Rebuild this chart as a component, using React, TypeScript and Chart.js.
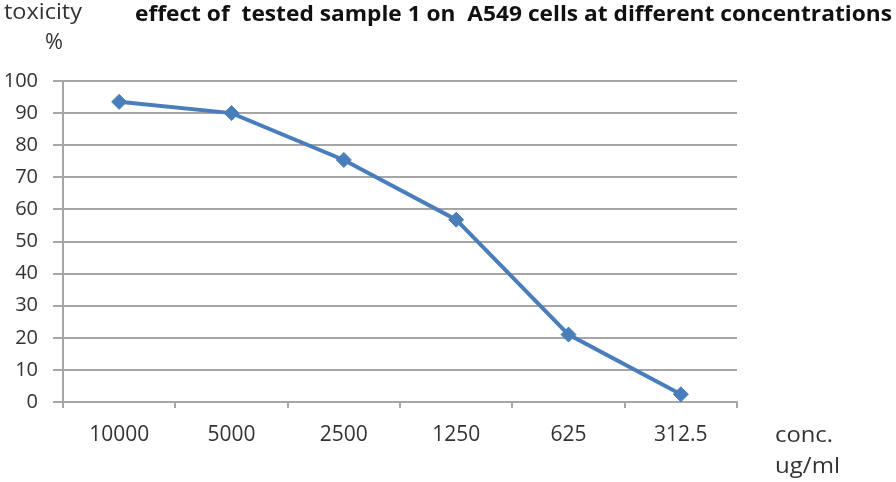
import React, { useEffect, useRef } from "react";
import { Chart, registerables } from "chart.js";

Chart.register(...registerables);

const categories = ["10000", "5000", "2500", "1250", "625", "312.5"];
const toxicity = [93.5, 90, 75.4, 56.8, 21, 2.4];
const yTicks = [0, 10, 20, 30, 40, 50, 60, 70, 80, 90, 100];

const titleText = "effect of  tested sample 1 on  A549 cells at different concentrations";
const yTitle1 = "toxicity";
const yTitle2 = "%";
const xTitle1 = "conc.";
const xTitle2 = "ug/ml";

function drawFit(ctx: CanvasRenderingContext2D, text: string, x: number, baseline: number, width: number, font: string, color: string) {
  ctx.save();
  ctx.font = font;
  ctx.fillStyle = color;
  ctx.textBaseline = "alphabetic";
  ctx.textAlign = "left";
  const w = ctx.measureText(text).width;
  ctx.translate(x, baseline);
  ctx.scale(width / w, 1);
  ctx.fillText(text, 0, 0);
  ctx.restore();
}

const textPlugin = {
  id: "textPlugin",
  afterDraw(chart: any) {
    const ctx = chart.ctx as CanvasRenderingContext2D;
    drawFit(ctx, titleText, 135, 21, 757, "bold 22px 'Open Sans'", "#111111");
    drawFit(ctx, yTitle1, 4, 19, 78, "22px 'Open Sans'", "#333333");
    drawFit(ctx, yTitle2, 45, 49, 18, "21px 'Open Sans'", "#333333");
    drawFit(ctx, xTitle1, 775, 442, 58, "22px 'Open Sans'", "#333333");
    drawFit(ctx, xTitle2, 775, 473, 65, "22px 'Open Sans'", "#333333");
  },
};

export default function App() {
  const ref = useRef<HTMLCanvasElement | null>(null);
  useEffect(() => {
    if (!ref.current) return;
    const chart = new Chart(ref.current, {
      type: "line",
      data: {
        labels: categories,
        datasets: [
          {
            data: toxicity,
            borderColor: "#4a7ebb",
            backgroundColor: "#4a7ebb",
            borderWidth: 4,
            pointStyle: "rectRot",
            pointRadius: 7.5,
            pointHoverRadius: 7.5,
            pointBorderWidth: 1,
            tension: 0,
          },
        ],
      },
      options: {
        responsive: false,
        animation: false,
        maintainAspectRatio: false,
        layout: { padding: { left: 0, top: 81, right: 159, bottom: 0 } },
        plugins: {
          legend: { display: false },
          title: { display: false },
          tooltip: { enabled: false },
        },
        scales: {
          x: {
            type: "category",
            offset: true,
            grid: {
              drawOnChartArea: false,
              drawTicks: true,
              tickLength: 6,
              offset: true,
              color: "#a6a6a6",
              lineWidth: 2,
            },
            border: { display: true, color: "#a6a6a6", width: 2 },
            ticks: {
              color: "#333333",
              font: { family: "'Open Sans'", size: 21 },
              padding: 14,
              maxRotation: 0,
              autoSkip: false,
            },
            afterFit(s: any) {
              s.height = 80;
            },
          },
          y: {
            min: 0,
            max: 100,
            afterBuildTicks(s: any) {
              s.ticks = yTicks.map((v) => ({ value: v }));
            },
            grid: {
              color: "#a6a6a6",
              lineWidth: 2,
              tickLength: 10,
            },
            border: { display: true, color: "#a6a6a6", width: 2 },
            ticks: {
              color: "#333333",
              font: { family: "'Open Sans'", size: 20 },
              padding: 15,
            },
            afterFit(s: any) {
              s.width = 63;
            },
          },
        },
      },
      plugins: [textPlugin],
    });
    return () => chart.destroy();
  }, []);
  return (
    <div style={{ position: "absolute", left: 0, top: 0, width: 896, height: 482, background: "#fff" }}>
      <canvas ref={ref} width={896} height={482} style={{ width: 896, height: 482 }} />
    </div>
  );
}
